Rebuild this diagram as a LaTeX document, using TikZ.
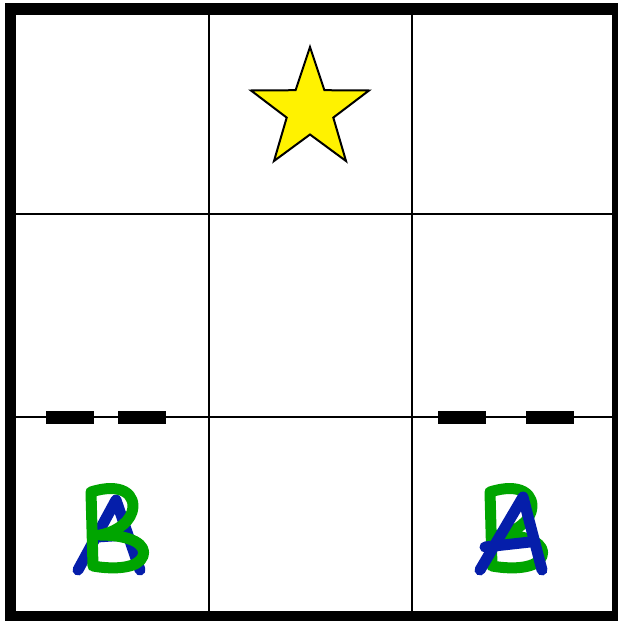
\documentclass[tikz,border=0pt]{standalone}
\begin{document}
\begin{tikzpicture}[x=1pt,y=-1pt,
  gridline/.style={line width=2.2pt,black},
  bar/.style={fill=black},
  lettera/.style={draw=letterblue,line width=11pt,line cap=round,line join=round},
  letterb/.style={draw=lettergreen,line width=11pt,line cap=round,line join=round}]
\definecolor{letterblue}{RGB}{5,30,170}
\definecolor{lettergreen}{RGB}{0,165,0}
\useasboundingbox (0,0) rectangle (618,621);
\clip (0,0) rectangle (618,621);
\fill[white] (0,0) rectangle (618,621);
% grid
\draw[gridline] (16,214.3) -- (612,214.3);
\draw[gridline] (16,417.3) -- (612,417.3);
\draw[gridline] (209,15) -- (209,611);
\draw[gridline] (412,15) -- (412,611);
% outer border
\draw[line width=11.5pt] (10.3,9) rectangle (618,617);
% bars
\fill[bar] (46,411) rectangle (94,424);
\fill[bar] (118,411) rectangle (166,424);
\fill[bar] (438,411) rectangle (486,424);
\fill[bar] (526,411) rectangle (574,424);
% star
\draw[fill=yellow,line width=2pt,line join=miter]
  (310,47) -- (324.4,90.2) -- (369,90.5) -- (333.3,117.6) -- (346,161)
  -- (310,134.5) -- (274,161) -- (286.7,117.6) -- (251,90.5) -- (295.6,90.2) -- cycle;
% left cell: A behind B
\draw[lettera] (78,570) -- (116,500) -- (140,570);
\draw[lettera] (97,537) -- (126,535);
\draw[letterb] (93,566) -- (91,492) .. controls (122,482) and (137,495) .. (132,512)
  .. controls (128,525) and (112,533) .. (100,535)
  .. controls (132,535) and (147,545) .. (143,556)
  .. controls (139,568) and (115,570) .. (93,566);
% right cell: B behind A
\begin{scope}[xshift=399pt]
\draw[letterb] (93,566) -- (91,492) .. controls (122,482) and (137,495) .. (132,512)
  .. controls (128,525) and (112,533) .. (100,535)
  .. controls (132,535) and (147,545) .. (143,556)
  .. controls (139,568) and (115,570) .. (93,566);
\end{scope}
\draw[lettera] (480,570) -- (523,497) -- (542,570);
\draw[lettera] (485,547) -- (530,542);
\end{tikzpicture}
\end{document}
